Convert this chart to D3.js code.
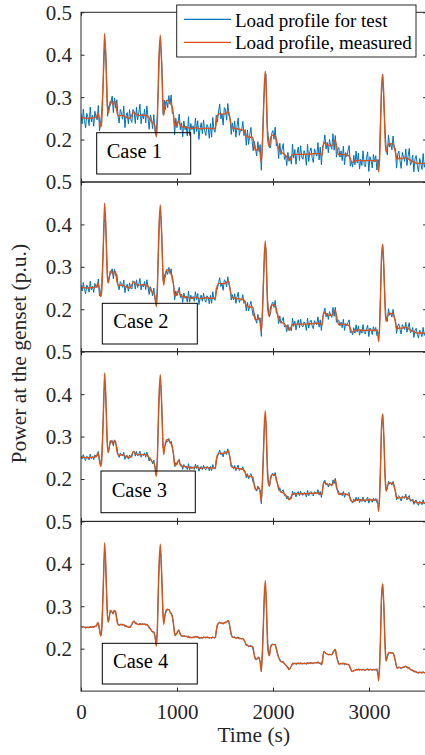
<!DOCTYPE html>
<html><head><meta charset="utf-8">
<script src="https://cdn.jsdelivr.net/npm/d3@7"></script>
<style>
body{margin:0;background:#fff}
svg{display:block}
svg text{font-family:"Liberation Serif","Times New Roman",serif !important}
</style>
</head><body>
<svg id="chart" width="425" height="755"></svg>
<script>
// ---------------- data ----------------
const caseLabels = ["Case 1", "Case 2", "Case 3", "Case 4"];
const legendLabels = ["Load profile for test", "Load profile, measured"];
const xTicks = [0, 1000, 2000, 3000];
const yTicks = [0.2, 0.3, 0.4, 0.5];

// measured load profile (orange), time in s
const measuredTime = [0,60,120,160,175,190,205,215,230,246,258,270,282,292,305,320,335,345,360,375,390,430,470,510,530,550,570,600,640,690,715,735,760,772,785,795,810,826,840,852,861,875,896,915,930,950,965,979,995,1017,1030,1050,1100,1150,1200,1250,1300,1350,1400,1418,1440,1480,1510,1538,1555,1573,1610,1660,1695,1720,1746,1790,1805,1816,1835,1851,1865,1878,1895,1910,1920,1932,1945,1962,1975,1990,2024,2045,2076,2110,2140,2170,2200,2215,2300,2400,2475,2510,2528,2545,2580,2614,2635,2649,2665,2684,2720,2788,2805,2823,2850,2892,2950,3000,3066,3085,3101,3115,3130,3142,3155,3168,3177,3195,3212,3240,3257,3275,3292,3320,3343,3380,3413,3440,3470,3500,3550,3600];
const measuredPower = [0.252,0.250,0.251,0.253,0.262,0.250,0.230,0.240,0.330,0.450,0.400,0.300,0.262,0.270,0.290,0.287,0.282,0.290,0.288,0.265,0.256,0.257,0.253,0.250,0.258,0.265,0.260,0.257,0.258,0.256,0.249,0.242,0.238,0.228,0.206,0.240,0.380,0.446,0.380,0.290,0.257,0.280,0.293,0.292,0.285,0.278,0.255,0.231,0.235,0.244,0.236,0.230,0.229,0.226,0.228,0.225,0.227,0.226,0.226,0.255,0.261,0.260,0.262,0.266,0.245,0.228,0.226,0.224,0.222,0.210,0.206,0.205,0.185,0.175,0.176,0.180,0.170,0.147,0.220,0.330,0.361,0.300,0.200,0.183,0.205,0.210,0.209,0.190,0.171,0.167,0.160,0.151,0.163,0.165,0.165,0.166,0.167,0.163,0.193,0.190,0.186,0.186,0.195,0.198,0.180,0.164,0.165,0.162,0.155,0.146,0.149,0.151,0.150,0.151,0.150,0.152,0.124,0.180,0.320,0.353,0.300,0.200,0.171,0.185,0.191,0.190,0.187,0.170,0.154,0.156,0.155,0.158,0.154,0.150,0.147,0.144,0.144,0.143];

// deviation of the test profile (blue) from the measured one, in jitter ticks
const testNoise = [
3,-5,7,-2,-8,4,1,-6,9,-3,2,-7,5,0,-4,8,-9,3,6,-1,
-5,2,7,-8,4,-2,0,6,-7,3,-4,9,-1,-6,5,2,-3,8,-9,1,
4,-5,7,-2,-6,3,0,-8,6,-4,2,9,-7,1,-3,5,-6,8,-1,-9,
4,2,-5,7,-3,0,6,-8,3,-2,5,-7,9,-4,1,-6,4,-1,8,-5,
2,-9,6,-3,0,7,-4,3,-8,5,-2,1,-7,9,-6,4,-1,2,-5,8,
-3,6,-9,0,5,-4,7,-2,-6,3,1,-8,4,-7,9,-1,-3,6,-5,2,
8,-4,0,-9,5,3,-6,7,-2,1,-8,4,-3,6,-7,2,9,-5,0,-1,
7,-4,3,-8,5,-6,2,8,-3,-9,4,1,-5,6,-2,7,-7,0,3,-4,
9,-6,5,-1,-8,2,4,-3,7,-5,1,-9,6,-2,3,8,-4,0,-7,5,
-1,2,-6,9,-3,4,-8,1,6,-5,7,-2,-4,3,0,-9,8,-6,2,5,
-3,-7,4,1,-2,9,-5,6,-8,3,-1,7,-4,2,-6,5,0,-3,8,-7,
4,-9,1,6,-2,3,-5,7,-8,2,-1,4,9,-6,0,-4,5,-3,8,-2,
6,-7,1,-4,8,-3,-5,2,7,-9,3,0,-6,5,-1,4,-8,6,-2,9,
-4,1,-7,5,2,-6,8,-3,0,-5,7,-1,3,-9,4,6,-2,-8,5,1,
-3,7,-6,2,9,-4,-1,5,-8,3,6,-2,-7,4,0,-5,8,-3,1,-6];
// p.u. per jitter tick, one per case
const noiseScale = [0.0029, 0.0017, 0.0009, 0.0003];

// ---------------- layout ----------------
const svg = d3.select("#chart");
const xL = 81, xR = 426.6, top0 = 12.3, ph = 169.7;
const axisColor = "#262626";
const blue = "#0072BD", orange = "#D95319";
const serif = '"Liberation Serif","Times New Roman",serif';
const caseBoxes = [
  {x:96.7, y:132.7, w:94, h:41.3, tx:106.7, ty:157.7},
  {x:102.3, y:303.3, w:95, h:40.7, tx:113.3, ty:327.7},
  {x:101, y:471, w:94.3, h:41.7, tx:111.7, ty:496.7},
  {x:102.3, y:643.3, w:95, h:40.7, tx:113, ty:667.7}
];

const x = d3.scaleLinear().domain([0, 3600]).range([xL, xR]);
const measuredAt = d3.scaleLinear().domain(measuredTime).range(measuredPower);
const testTime = testNoise.map((d, i) => i * 3600 / (testNoise.length - 1));
const measured = measuredTime.map((t, i) => ({t, v: measuredPower[i]}));

caseLabels.forEach((label, k) => {
  const top = top0 + k * ph;
  const y = d3.scaleLinear().domain([0.1, 0.5]).range([top + ph, top]);
  const g = svg.append("g");

  const clipId = "clip" + k;
  svg.append("clipPath").attr("id", clipId).append("rect")
    .attr("x", xL).attr("y", top).attr("width", xR - xL).attr("height", ph);

  const test = testTime.map((t, i) => ({t, v: measuredAt(t) + testNoise[i] * noiseScale[k]}));

  const line = d3.line().x(d => x(d.t)).y(d => y(d.v));
  g.append("path").datum(test).attr("clip-path", `url(#${clipId})`)
    .attr("fill", "none").attr("stroke", blue).attr("stroke-width", 1)
    .attr("stroke-linejoin", "round").attr("d", line);
  g.append("path").datum(measured).attr("clip-path", `url(#${clipId})`)
    .attr("fill", "none").attr("stroke", orange).attr("stroke-width", 1.4)
    .attr("stroke-linejoin", "round").attr("d", line.curve(d3.curveMonotoneX));

  // axes
  const ax = svg.append("g").attr("color", axisColor);
  const yl = ax.append("g").attr("transform", `translate(${xL},0)`)
    .call(d3.axisLeft(y).tickValues(yTicks).tickFormat(d3.format(".1f")).tickSizeInner(-3.5).tickSizeOuter(0).tickPadding(9));
  yl.attr("font-family", null).attr("font-size", null);
  yl.select(".domain").remove();
  yl.selectAll("text").attr("font-size", 21).attr("fill", axisColor)
    .style("font-family", serif).attr("dy", "0.33em");
  const yr = ax.append("g").attr("transform", `translate(${xR},0)`)
    .call(d3.axisRight(y).tickValues(yTicks).tickFormat("").tickSizeInner(-3.5).tickSizeOuter(0));
  yr.select(".domain").remove();
  const xb = ax.append("g").attr("transform", `translate(0,${top + ph})`)
    .call(d3.axisBottom(x).tickValues(xTicks).tickSizeInner(-3.5).tickSizeOuter(0).tickPadding(13)
      .tickFormat(k === 3 ? d3.format("d") : ""));
  xb.attr("font-family", null).attr("font-size", null);
  xb.select(".domain").remove();
  xb.selectAll("text").attr("font-size", 21).attr("fill", axisColor).style("font-family", serif);
  const xt = ax.append("g").attr("transform", `translate(0,${top})`)
    .call(d3.axisTop(x).tickValues(xTicks).tickFormat("").tickSizeInner(-3.5).tickSizeOuter(0));
  xt.select(".domain").remove();
  ax.append("rect").attr("x", xL).attr("y", top).attr("width", xR - xL).attr("height", ph)
    .attr("fill", "none").attr("stroke", axisColor).attr("stroke-width", 1);

  // case label
  const b = caseBoxes[k];
  svg.append("rect").attr("x", b.x).attr("y", b.y).attr("width", b.w).attr("height", b.h)
    .attr("fill", "none").attr("stroke", "#000").attr("stroke-width", 1);
  svg.append("text").attr("x", b.tx).attr("y", b.ty).attr("font-size", 20.5)
    .style("font-family", serif).attr("fill", "#000").text(label);
});

// axis titles
svg.append("text").attr("x", (xL + xR) / 2).attr("y", 742).attr("text-anchor", "middle")
  .attr("font-size", 21.5).style("font-family", serif).attr("fill", axisColor).text("Time (s)");
svg.append("text").attr("transform", `translate(26,${top0 + 2 * ph + 2}) rotate(-90)`)
  .attr("text-anchor", "middle").attr("font-size", 21.5).style("font-family", serif).attr("fill", axisColor)
  .text("Power at the genset (p.u.)");

// legend
const lg = svg.append("g");
lg.append("rect").attr("x", 176.7).attr("y", 5).attr("width", 239.3).attr("height", 52)
  .attr("fill", "#fff").attr("stroke", axisColor).attr("stroke-width", 1);
[blue, orange].forEach((c, i) => {
  const ly = [19.3, 42.3][i];
  lg.append("line").attr("x1", 184).attr("x2", 231).attr("y1", ly).attr("y2", ly)
    .attr("stroke", c).attr("stroke-width", 1.2);
  lg.append("text").attr("x", 235).attr("y", [26.5, 49.3][i]).attr("font-size", 19)
    .style("font-family", serif).attr("fill", "#000").text(legendLabels[i]);
});
</script>
</body></html>
